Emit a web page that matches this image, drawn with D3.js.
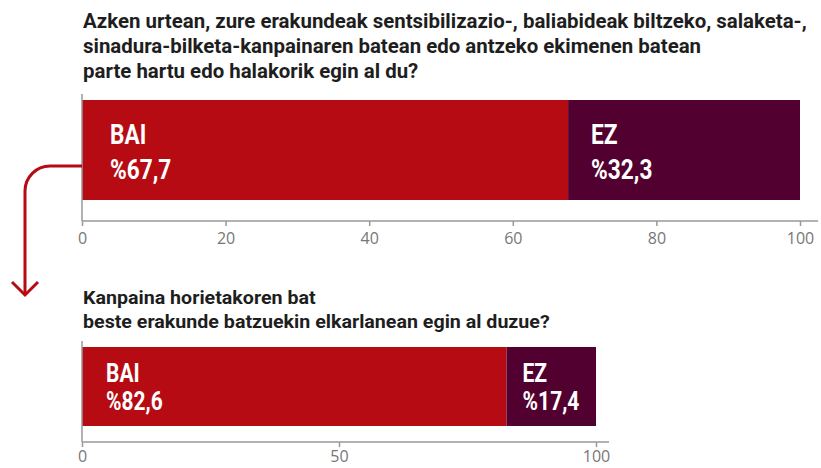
<!DOCTYPE html>
<html>
<head>
<meta charset="utf-8">
<script src="https://cdn.jsdelivr.net/npm/d3@7"></script>
<style>
  body { margin: 0; background: #fff; }
  .title { font-family: Roboto, "Noto Sans", sans-serif; font-weight: bold; fill: #1e1e1e; }
  .barLabel { font-family: Roboto, "Noto Sans", sans-serif; font-weight: bold; fill: #fff; }
  .tick text { font-family: "Open Sans", sans-serif; fill: #777; }
  .tick line { stroke: #999; }
</style>
</head>
<body>
<div id="chart"></div>
<script>
// Data
var categories = ["BAI", "EZ"];
var q1Values = [67.7, 32.3];
var q2Values = [82.6, 17.4];
var q1Ticks = [0, 20, 40, 60, 80, 100];
var q2Ticks = [0, 50, 100];
var q1Title = [
    "Azken urtean, zure erakundeak sentsibilizazio-, baliabideak biltzeko, salaketa-,",
    "sinadura-bilketa-kanpainaren batean edo antzeko ekimenen batean",
    "parte hartu edo halakorik egin al du?"
];
var q2Title = [
    "Kanpaina horietakoren bat",
    "beste erakunde batzuekin elkarlanean egin al duzue?"
];
var colors = ["#b60b13", "#520030"];

var svgWidth = 821;
var svgHeight = 468;

var svg = d3.select("#chart")
    .append("svg")
    .attr("width", svgWidth)
    .attr("height", svgHeight);

function fmt(v) {
    return "%" + String(v).replace(".", ",");
}

// draws one stacked bar with its axis
function drawBar(opts) {
    var x = d3.scaleLinear().domain([0, 100]).range([opts.left, opts.right]);

    // title, squeezed horizontally to the width of the original (condensed face)
    var tg = svg.append("g");
    var t = tg.append("text")
        .attr("class", "title")
        .style("font-size", opts.titleSize + "px");
    opts.title.forEach(function(line, i) {
        t.append("tspan")
            .attr("x", 0)
            .attr("y", opts.titleY + i * opts.titleLead)
            .text(line);
    });
    var widest = d3.max(t.selectAll("tspan").nodes(), n => n.getComputedTextLength());
    var sx = opts.titleWidth / widest;
    tg.attr("transform", `translate(${opts.left + 1}, 0) scale(${sx}, 1)`);

    // stacked segments
    var start = 0;
    var segs = opts.values.map(function(v, i) {
        var s = {cat: categories[i], value: v, x0: start, x1: start + v, color: colors[i]};
        start += v;
        return s;
    });

    var g = svg.append("g");
    g.selectAll("rect")
        .data(segs)
        .enter()
        .append("rect")
        .attr("x", d => x(d.x0))
        .attr("width", d => x(d.x1) - x(d.x0))
        .attr("y", opts.barTop)
        .attr("height", opts.barH)
        .attr("fill", d => d.color);

    var labels = g.selectAll("text.barLabel")
        .data(segs)
        .enter()
        .append("text")
        .attr("class", "barLabel")
        .attr("transform", (d, i) => `translate(${x(d.x0) + opts.labelPad[i]}, ${opts.barTop}) scale(0.84, 1)`)
        .style("font-size", opts.labelSize + "px");
    labels.append("tspan")
        .attr("x", 0)
        .attr("y", opts.labelY1)
        .text(d => d.cat);
    labels.append("tspan")
        .attr("x", 0)
        .attr("y", opts.labelY2)
        .text(d => fmt(d.value));

    // axes
    var axis = d3.axisBottom(x)
        .tickValues(opts.ticks)
        .tickSize(5)
        .tickSizeOuter(0)
        .tickPadding(opts.tickPad);
    var ag = svg.append("g")
        .attr("transform", `translate(0, ${opts.axisY})`)
        .call(axis);
    ag.select(".domain").remove();
    ag.selectAll(".tick text").style("font-size", opts.tickSize + "px");
    ag.selectAll(".tick line").attr("stroke-width", 1.5);

    svg.append("line")
        .attr("x1", x(0)).attr("x2", x(100) + opts.axisExtra)
        .attr("y1", opts.axisY).attr("y2", opts.axisY)
        .attr("stroke", "#999").attr("stroke-width", 1.5);
    svg.append("line")
        .attr("x1", x(0)).attr("x2", x(0))
        .attr("y1", opts.barTop - 6).attr("y2", opts.axisY)
        .attr("stroke", "#999").attr("stroke-width", 1.5);

    return x;
}

var x1 = drawBar({
    values: q1Values, ticks: q1Ticks, title: q1Title,
    titleSize: 21, titleY: 28, titleLead: 25, titleWidth: 724,
    left: 82, right: 800, barTop: 100, barH: 100,
    labelSize: 27, labelY1: 44, labelY2: 79, labelPad: [28, 23],
    axisY: 221, axisExtra: 18, tickSize: 16, tickPad: 7
});

var x2 = drawBar({
    values: q2Values, ticks: q2Ticks, title: q2Title,
    titleSize: 19, titleY: 304, titleLead: 24, titleWidth: 467,
    left: 82, right: 596, barTop: 347, barH: 79,
    labelSize: 25, labelY1: 35, labelY2: 63, labelPad: [24, 16],
    axisY: 442, axisExtra: 13, tickSize: 16, tickPad: 4
});

// connector arrow between the two questions
var r = 25;
var ay = 166, ax = 25, aEnd = 295;
var p = d3.path();
p.moveTo(x1(0), ay);
p.lineTo(ax + r, ay);
p.arcTo(ax, ay, ax, ay + r, r);
p.lineTo(ax, aEnd);
svg.append("path")
    .attr("d", p.toString())
    .attr("fill", "none")
    .attr("stroke", colors[0])
    .attr("stroke-width", 3);
svg.append("path")
    .attr("d", `M${ax - 13},${aEnd - 13}L${ax},${aEnd}L${ax + 13},${aEnd - 13}`)
    .attr("fill", "none")
    .attr("stroke", colors[0])
    .attr("stroke-width", 3);
</script>
</body>
</html>
